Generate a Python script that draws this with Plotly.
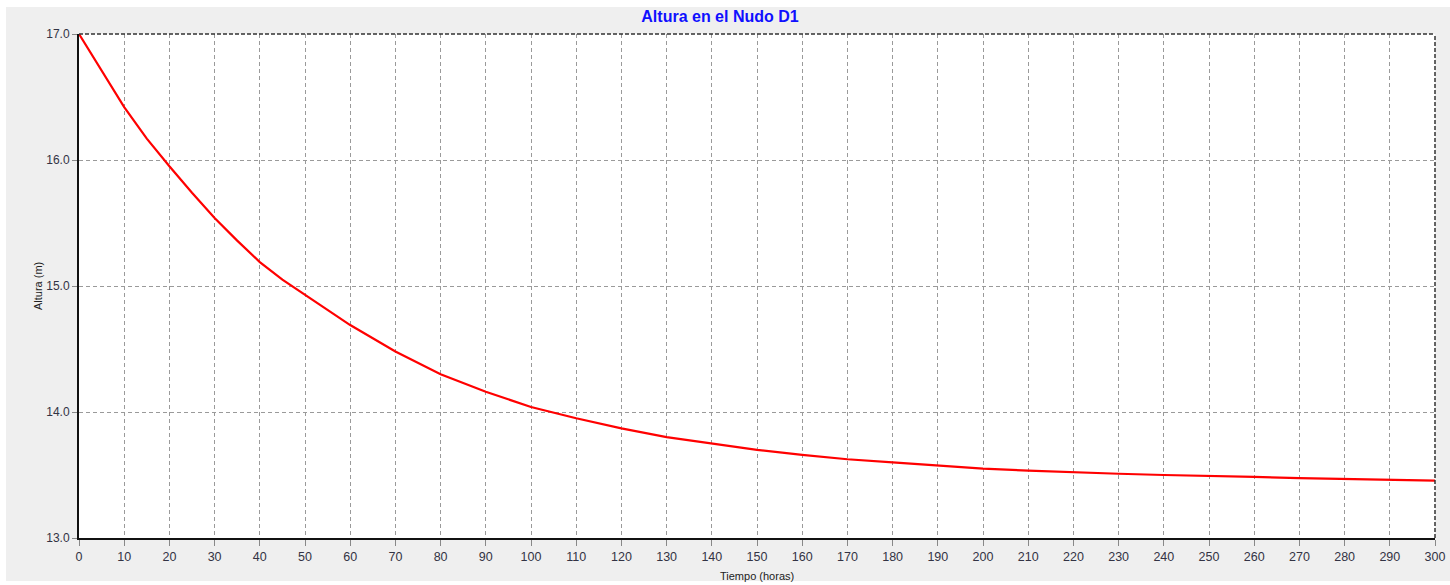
import plotly.graph_objects as go

# Data
tiempo_horas = [0, 5, 10, 15, 20, 25, 30, 35, 40, 45, 50, 60, 70, 80, 90, 100, 110, 120,
                130, 140, 150, 160, 170, 180, 190, 200, 210, 220, 230, 240, 250,
                260, 270, 280, 290, 300]
altura_m = [17.00, 16.71, 16.42, 16.17, 15.95, 15.74, 15.54, 15.36, 15.19, 15.05, 14.93,
            14.69, 14.48, 14.30, 14.16, 14.04, 13.95, 13.87,
            13.80, 13.75, 13.70, 13.66, 13.625, 13.60, 13.575, 13.55, 13.535, 13.52,
            13.51, 13.50, 13.495, 13.485, 13.475, 13.47, 13.465, 13.456]

x_ticks = list(range(0, 301, 10))
y_ticks = [13.0, 14.0, 15.0, 16.0, 17.0]

W, H = 1450, 585
L, R, T, B = 79, 1435, 34, 538

fig = go.Figure()
fig.add_trace(go.Scatter(x=tiempo_horas, y=altura_m, mode="lines",
                         line=dict(color="#ff0000", width=2.2), showlegend=False,
                         hoverinfo="x+y"))

pw, ph = R - L, B - T
def px_x(p):
    return (p - L) / pw
def px_y(p):
    return (B - p) / ph

shapes = [
    # gray panel behind everything
    dict(type="rect", xref="paper", yref="paper", layer="below",
         x0=px_x(6), x1=px_x(1450), y0=px_y(581), y1=px_y(7),
         fillcolor="#efefef", line=dict(width=0)),
    # white plotting area
    dict(type="rect", xref="paper", yref="paper", layer="below",
         x0=0, x1=1, y0=0, y1=1,
         fillcolor="#ffffff", line=dict(width=0)),
    # dashed top border
    dict(type="line", xref="paper", yref="paper", x0=0, x1=1, y0=1, y1=1,
         line=dict(color="#333333", width=1.5, dash="4px,2px")),
    # dashed right border
    dict(type="line", xref="paper", yref="paper", x0=1, x1=1, y0=0, y1=1,
         line=dict(color="#333333", width=1.5, dash="4px,2px")),
]

annotations = [
    dict(text="Tiempo (horas)", xref="paper", yref="paper", x=px_x(757), y=px_y(576),
         xanchor="center", yanchor="middle", showarrow=False,
         font=dict(size=11, color="#222222")),
    dict(text="Altura (m)", xref="paper", yref="paper", x=px_x(38), y=px_y(286),
         xanchor="center", yanchor="middle", showarrow=False, textangle=-90,
         font=dict(size=11, color="#222222")),
]

fig.update_layout(
    width=W, height=H,
    margin=dict(l=L, r=W - R, t=T, b=H - B, pad=0, autoexpand=False),
    paper_bgcolor="#ffffff",
    plot_bgcolor="#ffffff",
    font=dict(family="Arial, Liberation Sans, sans-serif", color="#333344", size=12),
    title=dict(text="<b>Altura en el Nudo D1</b>", x=(720) / W, xanchor="center",
               y=1 - 16 / H, yanchor="middle", yref="container",
               font=dict(family="Arial, Liberation Sans, sans-serif", size=16, color="#1010ff")),
    shapes=shapes,
    annotations=annotations,
    xaxis=dict(range=[0, 300], tickvals=x_ticks, ticktext=[str(v) for v in x_ticks],
               automargin=False,
               showgrid=True, gridcolor="#9a9a9a", griddash="4px,3px", gridwidth=1,
               zeroline=False, showline=True, linecolor="#111111", linewidth=2,
               ticks="outside", ticklen=6, tickcolor="#888888",
               tickfont=dict(size=12.5, color="#333344")),
    yaxis=dict(range=[13.0, 17.0], tickvals=y_ticks, ticktext=[f"{v:.1f}" for v in y_ticks],
               automargin=False,
               showgrid=True, gridcolor="#9a9a9a", griddash="4px,3px", gridwidth=1,
               zeroline=False, showline=True, linecolor="#111111", linewidth=2,
               ticks="outside", ticklen=5, tickcolor="#888888",
               tickfont=dict(size=12, color="#333344")),
)

fig.write_html("out.html")
